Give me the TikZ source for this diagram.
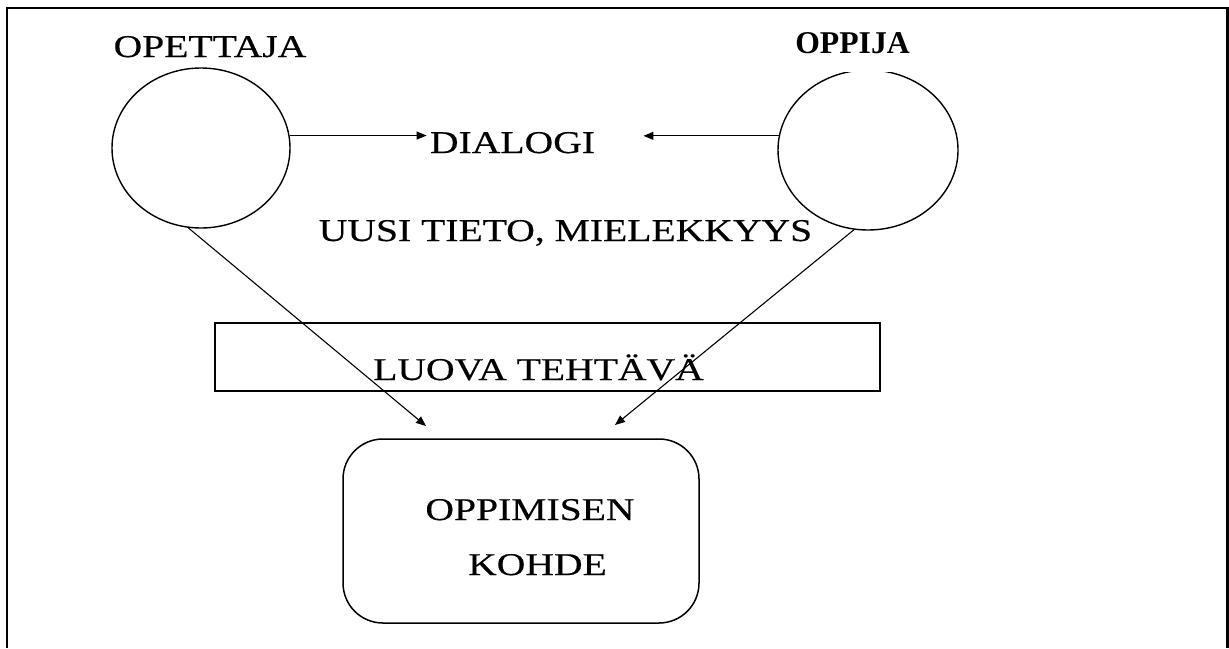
\documentclass[tikz,border=0pt]{standalone}
\usepackage{fontspec}
\setmainfont{Liberation Serif}
\newfontfamily\wideserif[FakeStretch=1.25,FakeBold=0.35]{Liberation Serif}
\usetikzlibrary{arrows.meta,shapes.geometric}

\tikzset{
	txt/.style={font=\wideserif\fontsize{15.85pt}{19pt}\selectfont, inner sep=1.5pt, anchor=base},
	bubble/.style={draw, ellipse, line width=0.7pt, inner sep=0pt},
	conn/.style={line width=0.55pt, -{Triangle[length=5pt,width=4pt]}}
}

\begin{document}
\begin{tikzpicture}[x=0.5pt,y=-0.5pt]
		\useasboundingbox (0,0) rectangle (1229,648);
		% open frame (bottom edge cut off)
		\draw[line width=1.2pt] (7,648) -- (7,8) -- (1227.5,8) -- (1227.5,648);

		% the two persons
		\node[bubble, minimum width=89pt, minimum height=80pt] (opettaja) at (201,148) {};
		\node[bubble, minimum width=90pt, minimum height=80pt] (oppija) at (868,150) {};
		\node[txt] (opettajaLbl) at (210,57) {OPETTAJA};
		\node[anchor=base, font=\bfseries\fontsize{15.85pt}{19pt}\selectfont,
			fill=white, text depth=8pt, inner sep=1.5pt] (oppijaLbl) at (852.5,53) {OPPIJA};

		\node[txt] (dialogi) at (512.5,153) {DIALOGI};
		\node[txt] (tieto) at (565.5,241) {UUSI TIETO, MIELEKKYYS};

		% task and object
		\node[draw, line width=0.75pt, minimum width=332.5pt, minimum height=34pt] (tehtava) at (547.5,357) {};
		\node[txt] (tehtavaLbl) at (538.5,380) {LUOVA TEHTÄVÄ};
		\node[draw, line width=0.75pt, rounded corners=20pt, minimum width=178pt, minimum height=92pt] (kohde) at (521,531) {};
		\node[txt] (kohdeLbl1) at (530,520) {OPPIMISEN};
		\node[txt] (kohdeLbl2) at (537.5,575) {KOHDE};

		\coordinate (tipL) at (426,426);
		\coordinate (tipR) at (615,425);

		\draw[conn] (opettaja.8) -- (opettaja.8 -| dialogi.west);
		\draw[conn, shorten >=22.5pt] (oppija.171) -- (oppija.171 -| dialogi.east);
		\draw[conn] (opettaja.261) -- (tipL);
		\draw[conn] (oppija.260) -- (tipR);
	\end{tikzpicture}
\end{document}
